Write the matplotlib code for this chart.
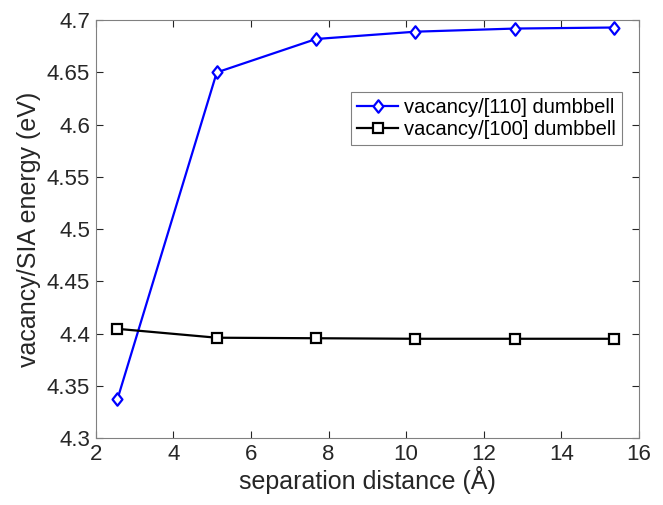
import numpy as np
from matplotlib import pyplot as plt
from matplotlib.path import Path

plt.rcParams['font.family'] = ['Liberation Sans', 'DejaVu Sans']

# separation distance (angstrom)
dist = [2.56, 5.12, 7.68, 10.24, 12.80, 15.36]
# energies (eV)
e110 = [4.337, 4.650, 4.682, 4.689, 4.692, 4.693]
e100 = [4.4045, 4.396, 4.3955, 4.395, 4.395, 4.395]

grey = (0.15, 0.15, 0.15)

# matlab-like diamond, a bit taller than wide
diamond = Path([(0, -1.2), (0.95, 0), (0, 1.2), (-0.95, 0), (0, -1.2)],
               [Path.MOVETO, Path.LINETO, Path.LINETO, Path.LINETO, Path.CLOSEPOLY])

fig = plt.figure(figsize=(6.63, 5.05), dpi=100)
ax = fig.add_axes([0.1443, 0.1327, 0.8195, 0.8273])

ax.plot(dist, e110, '-', color='blue', lw=1.6, marker=diamond, ms=9,
        mfc='white', mec='blue', mew=1.6, label='vacancy/[110] dumbbell')
ax.plot(dist, e100, '-', color='black', lw=1.6, marker='s', ms=6.5,
        mfc='white', mec='black', mew=1.6, label='vacancy/[100] dumbbell')

ax.set_xlim(2, 16)
ax.set_ylim(4.3, 4.7)
ax.set_xticks(np.arange(2, 17, 2))
ax.set_yticks(np.arange(4.3, 4.701, 0.05))
ax.set_yticklabels(['4.3', '4.35', '4.4', '4.45', '4.5', '4.55', '4.6', '4.65', '4.7'])

ax.tick_params(direction='in', top=True, right=True, labelsize=16,
               colors=grey, length=5, width=0.8, pad=4)
for s in ax.spines.values():
    s.set_color((0.5, 0.5, 0.5))
    s.set_linewidth(0.8)

ax.set_xlabel('separation distance (Å)', fontsize=18, color=grey, labelpad=1)
ax.set_ylabel('vacancy/SIA energy (eV)', fontsize=18, color=grey, labelpad=4)

leg = ax.legend(loc='upper right', bbox_to_anchor=(0.968, 0.828), borderaxespad=0,
                fontsize=14.5, fancybox=False, framealpha=1, edgecolor=(0.5, 0.5, 0.5),
                handlelength=2.0, handletextpad=0.3, borderpad=0.3, labelspacing=0.15)
leg.get_frame().set_linewidth(0.8)
for t in leg.get_texts():
    t.set_color('black')

plt.savefig('out.png')
